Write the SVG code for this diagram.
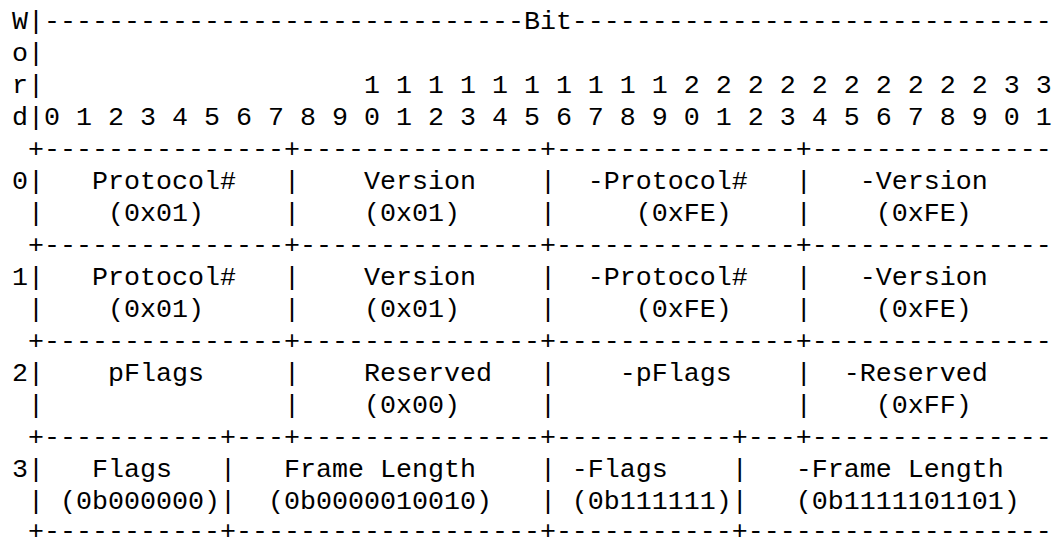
<svg xmlns="http://www.w3.org/2000/svg" width="1056" height="540" viewBox="0 0 1056 540">
<style>
.t{font-family:"Liberation Mono","Courier New",monospace;font-size:26.667px;fill:#000;white-space:pre}
</style>
<rect width="1056" height="540" fill="#fff"/>
<g id="ascii-table" class="t">
<text x="12" y="28.5" xml:space="preserve">W|------------------------------Bit------------------------------</text>
<text x="12" y="60.5" xml:space="preserve">o|</text>
<text x="12" y="92.5" xml:space="preserve">r|                    1 1 1 1 1 1 1 1 1 1 2 2 2 2 2 2 2 2 2 2 3 3</text>
<text x="12" y="124.5" xml:space="preserve">d|0 1 2 3 4 5 6 7 8 9 0 1 2 3 4 5 6 7 8 9 0 1 2 3 4 5 6 7 8 9 0 1</text>
<text x="12" y="156.5" xml:space="preserve"> +---------------+---------------+---------------+---------------</text>
<text x="12" y="188.5" xml:space="preserve">0|   Protocol#   |    Version    |  -Protocol#   |   -Version</text>
<text x="12" y="220.5" xml:space="preserve"> |    (0x01)     |    (0x01)     |     (0xFE)    |    (0xFE)</text>
<text x="12" y="252.5" xml:space="preserve"> +---------------+---------------+---------------+---------------</text>
<text x="12" y="284.5" xml:space="preserve">1|   Protocol#   |    Version    |  -Protocol#   |   -Version</text>
<text x="12" y="316.5" xml:space="preserve"> |    (0x01)     |    (0x01)     |     (0xFE)    |    (0xFE)</text>
<text x="12" y="348.5" xml:space="preserve"> +---------------+---------------+---------------+---------------</text>
<text x="12" y="380.5" xml:space="preserve">2|    pFlags     |    Reserved   |    -pFlags    |  -Reserved</text>
<text x="12" y="412.5" xml:space="preserve"> |               |    (0x00)     |               |    (0xFF)</text>
<text x="12" y="444.5" xml:space="preserve"> +-----------+---+---------------+-----------+---+---------------</text>
<text x="12" y="476.5" xml:space="preserve">3|   Flags   |   Frame Length    | -Flags    |   -Frame Length</text>
<text x="12" y="508.5" xml:space="preserve"> | (0b000000)|  (0b0000010010)   | (0b111111)|   (0b1111101101)</text>
<text x="12" y="539" xml:space="preserve"> +-----------+-------------------+-----------+-------------------</text>
</g>
</svg>
